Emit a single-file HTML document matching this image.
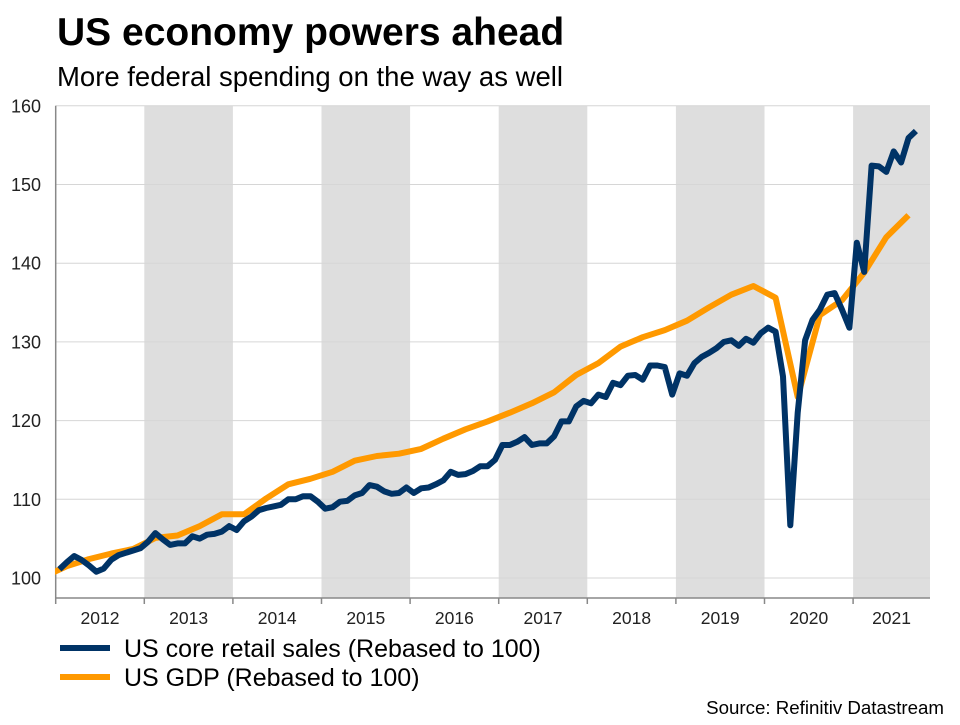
<!DOCTYPE html>
<html><head><meta charset="utf-8"><style>
body{margin:0;background:#fff;width:960px;height:720px;overflow:hidden;font-family:"Liberation Sans",sans-serif}
</style></head><body>
<svg id="chart" width="960" height="720" style="font-family:'Liberation Sans',sans-serif">
<text x="57" y="45" font-size="39" font-weight="bold" fill="#000">US economy powers ahead</text>
<text x="57" y="86" font-size="27.5" fill="#000">More federal spending on the way as well</text>
<g id="bands"></g>
<g id="grid"></g>
<g id="axes"></g>
<defs><clipPath id="clip"><rect x="55" y="100" width="875" height="498"/></clipPath></defs>
<g id="series" clip-path="url(#clip)"></g>
<line x1="60" y1="648" x2="110" y2="648" stroke="#003366" stroke-width="6"/>
<text x="124" y="657" font-size="25">US core retail sales (Rebased to 100)</text>
<line x1="60" y1="677" x2="110" y2="677" stroke="#ff9900" stroke-width="6"/>
<text x="124" y="686" font-size="25">US GDP (Rebased to 100)</text>
<text x="944" y="714" font-size="18.7" text-anchor="end">Source: Refinitiv Datastream</text>
</svg>
<script>
const yTicks=[100,110,120,130,140,150,160];
const years=[2012,2013,2014,2015,2016,2017,2018,2019,2020,2021];
const gdpValues=[100.2,101.5,102.4,103.1,103.7,105.1,105.4,106.6,108.1,108.1,110.1,111.9,112.6,113.5,114.9,115.5,115.8,116.4,117.7,118.9,119.9,121.0,122.2,123.6,125.8,127.3,129.4,130.6,131.5,132.7,134.4,136.0,137.1,135.6,123.0,133.4,135.3,138.8,143.3,146.1];
const retailValues=[101.1,102.0,102.8,102.3,101.6,100.8,101.2,102.3,102.9,103.2,103.5,103.8,104.6,105.7,104.9,104.2,104.4,104.4,105.3,105.0,105.5,105.6,105.9,106.6,106.1,107.2,107.8,108.6,108.9,109.1,109.3,110.0,110.0,110.4,110.4,109.7,108.8,109.0,109.7,109.8,110.5,110.8,111.8,111.6,111.0,110.7,110.8,111.5,110.8,111.4,111.5,111.9,112.4,113.5,113.1,113.2,113.6,114.2,114.2,115.0,116.9,116.9,117.3,117.9,116.9,117.1,117.1,118.0,119.9,119.9,121.8,122.5,122.2,123.3,123.0,124.8,124.5,125.7,125.8,125.2,127.0,127.0,126.8,123.3,126.0,125.7,127.3,128.1,128.6,129.2,130.0,130.2,129.5,130.4,129.9,131.1,131.8,131.3,125.6,106.7,121.0,130.2,132.8,134.1,136.0,136.2,134.1,131.8,142.6,138.9,152.4,152.3,151.6,154.2,152.8,155.9,156.8];
const NS='http://www.w3.org/2000/svg';
const X0=55.7,YW=88.6,XR=930,Y100=578,PX=7.87,YB=598;
const xs=t=>X0+(t-2012)*YW;
const ys=v=>Y100-(v-100)*PX;
function mk(tag,attrs,parent){const e=document.createElementNS(NS,tag);for(const k in attrs)e.setAttribute(k,attrs[k]);document.getElementById(parent).appendChild(e);return e;}
years.forEach(y=>{if(y%2===1){const x1=xs(y),x2=Math.min(xs(y+1),XR);
const r=mk('rect',{x:x1,y:ys(160),width:x2-x1,height:YB-ys(160),fill:'#dedede'},'bands');

}});
yTicks.forEach(v=>{const l=mk('line',{x1:X0,x2:XR,y1:ys(v),y2:ys(v),stroke:'#d6d6d6','stroke-width':1},'grid');


const t=mk('text',{x:41,y:ys(v)+6.5,'font-size':18,'text-anchor':'end',fill:'#222'},'axes');t.textContent=v;

});
const ax=mk('line',{x1:X0,x2:X0,y1:ys(160),y2:YB,stroke:'#888','stroke-width':1.5},'axes');


const bx=mk('line',{x1:X0,x2:XR,y1:YB,y2:YB,stroke:'#888','stroke-width':1.5},'axes');


years.concat([2022]).forEach(y=>{const x=xs(y);if(x<=XR+1){const tk=mk('line',{x1:x,x2:x,y1:YB,y2:YB+6,stroke:'#888','stroke-width':1.5},'axes');

}});
years.forEach(y=>{const t=mk('text',{x:(xs(y)+Math.min(xs(y+1),XR))/2,y:624,'font-size':17.5,'text-anchor':'middle',fill:'#222'},'axes');t.textContent=y;

});
const gp=gdpValues.map((v,i)=>xs(2011.875+i*0.25).toFixed(1)+','+ys(v).toFixed(1)).join(' ');
const g=mk('polyline',{points:gp,fill:'none',stroke:'#ff9900','stroke-width':6,'stroke-linejoin':'round'},'series');


const rp=retailValues.map((v,i)=>xs(2012+(i+0.5)/12).toFixed(1)+','+ys(v).toFixed(1)).join(' ');
const r=mk('polyline',{points:rp,fill:'none',stroke:'#003366','stroke-width':6,'stroke-linejoin':'round'},'series');


</script>
</body></html>
